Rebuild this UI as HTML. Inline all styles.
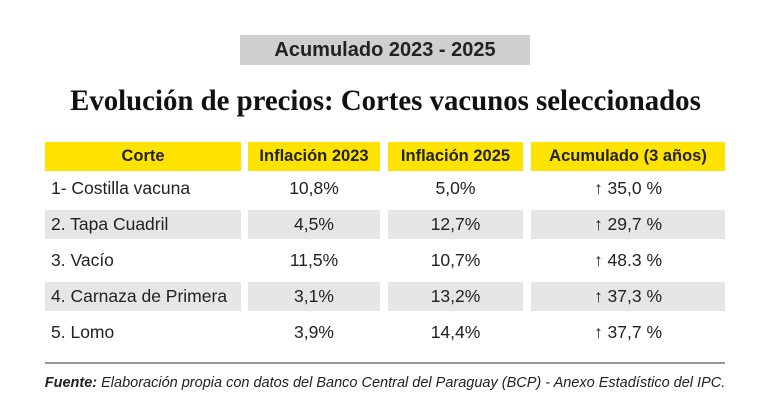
<!DOCTYPE html><html><head><meta charset="utf-8"><style>
body{margin:0;width:770px;height:420px;background:#fff;position:relative;overflow:hidden;font-family:"Liberation Sans",sans-serif;color:#222}
.a{position:absolute;box-sizing:border-box;display:flex;align-items:center;justify-content:center;white-space:nowrap}
.h{background:#ffe300;font-weight:bold;font-size:16.5px;color:#222;height:29px;top:142px}
.c{height:29px;font-size:17.5px}
.g{background:#e6e6e6}
.l{justify-content:flex-start;padding-left:6px}
</style></head><body>
<div class="a" style="left:240px;top:35px;width:290px;height:30px;background:#cfcfcf;font-weight:bold;font-size:20px">Acumulado 2023 - 2025</div>
<div class="a" style="left:0;width:770px;top:82px;height:38px;font-family:'Liberation Serif',serif;font-weight:bold;font-size:30px;color:#111"><span style="display:inline-block;transform:scaleX(0.96)">Evolución de precios: Cortes vacunos seleccionados</span></div>
<div class="a h" style="left:45px;width:196px">Corte</div>
<div class="a h" style="left:248px;width:132px">Inflación 2023</div>
<div class="a h" style="left:388px;width:135px">Inflación 2025</div>
<div class="a h" style="left:531px;width:194px">Acumulado (3 años)</div>
<div id="rows"></div>
<div style="position:absolute;left:45px;top:362px;width:680px;height:2px;background:#999"></div>
<div class="a" style="left:0;width:770px;top:372px;height:22px;font-size:14.5px;font-style:italic;color:#222"><b>Fuente:</b>&nbsp;Elaboración propia con datos del Banco Central del Paraguay (BCP) - Anexo Estadístico del IPC.</div>
<script>
var d=[["1- Costilla vacuna","10,8%","5,0%","↑ 35,0 %"],["2. Tapa Cuadril","4,5%","12,7%","↑ 29,7 %"],["3. Vacío","11,5%","10,7%","↑ 48.3 %"],["4. Carnaza de Primera","3,1%","13,2%","↑ 37,3 %"],["5. Lomo","3,9%","14,4%","↑ 37,7 %"]];
var cols=[[45,196],[248,132],[388,135],[531,194]],h="";
d.forEach(function(r,i){var t=174+36*i;r.forEach(function(v,j){h+='<div class="a c'+(i%2?' g':'')+(j==0?' l':'')+'" style="top:'+t+'px;left:'+cols[j][0]+'px;width:'+cols[j][1]+'px">'+v+'</div>';});});
document.getElementById("rows").innerHTML=h;
</script>
</body></html>
